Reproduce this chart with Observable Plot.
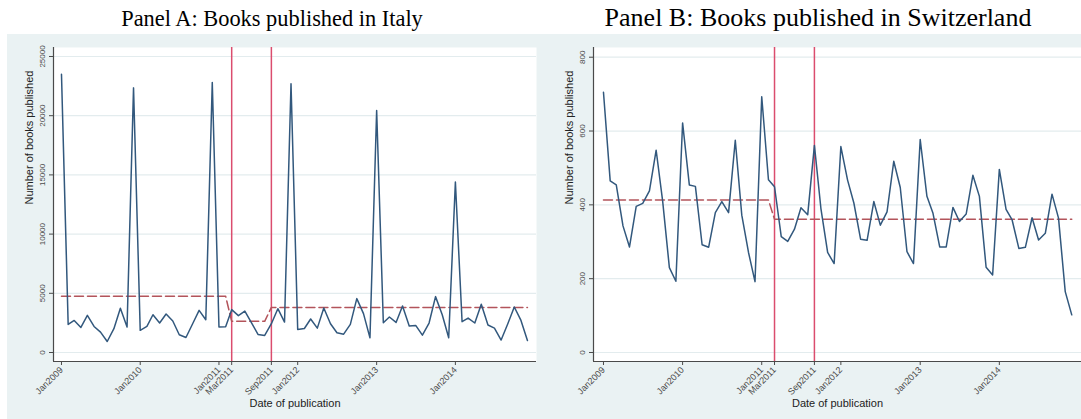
<!DOCTYPE html>
<html><head><meta charset="utf-8">
<script src="https://cdn.jsdelivr.net/npm/d3@7"></script>
<script src="https://cdn.jsdelivr.net/npm/@observablehq/plot@0.6"></script>
<style>
body{margin:0;background:#fff;}
#wrap{position:relative;width:1081px;height:419px;overflow:hidden;font-family:Arial,"Liberation Sans",sans-serif;}
.title{position:absolute;font-family:"Times New Roman","Liberation Serif",serif;color:#000;white-space:nowrap;transform:translateX(-50%);line-height:1;}
.panel{position:absolute;top:34px;background:#eaf2f3;}
.panel svg{display:block;}
</style></head><body>
<div id="wrap"></div>
<script>
// ---- data ----
const firstMonth = "2009-01";
const italyBooks = [23500, 2370, 2710, 2120, 3140, 2200, 1720, 930, 2010, 3730, 2150, 22350,
  1870, 2200, 3190, 2490, 3250, 2660, 1500, 1270, 2430, 3560, 2770, 22800,
  2150, 2180, 3620, 3110, 3500, 2510, 1530, 1440, 2430, 3700, 2570, 22700,
  1950, 2030, 2830, 2060, 3760, 2430, 1670, 1550, 2370, 4550, 3280, 1240,
  20440, 2510, 3000, 2540, 3930, 2230, 2290, 1470, 2490, 4720, 3190, 1240,
  14400, 2600, 2910, 2490, 4070, 2320, 2060, 1050, 2430, 3840, 2710, 1020];
const swissBooks = [705, 465, 454, 343, 286, 396, 404, 438, 548, 410, 230, 193,
  622, 454, 450, 292, 285, 379, 409, 379, 575, 372, 271, 192,
  693, 468, 449, 314, 301, 334, 392, 373, 561, 390, 271, 241,
  558, 467, 405, 307, 304, 409, 345, 381, 518, 447, 273, 241,
  577, 423, 377, 286, 286, 393, 355, 375, 480, 423, 231, 210,
  496, 388, 359, 282, 285, 365, 305, 323, 429, 364, 165, 102];
const italyFitMonths = ["2009-01", "2011-02", "2011-03", "2011-08", "2011-09", "2014-12"];
const italyFitValues = [4750, 4750, 2630, 2630, 3810, 3810];
const swissFitMonths = ["2009-01", "2011-02", "2011-03", "2014-12"];
const swissFitValues = [413, 413, 361, 361];
const policyMonths = ["2011-03", "2011-09"];
const xTickMonths = ["2009-01", "2010-01", "2011-01", "2011-03", "2011-09", "2012-01", "2013-01", "2014-01"];
const italyYTicks = [0, 5000, 10000, 15000, 20000, 25000];
const swissYTicks = [0, 200, 400, 600, 800];
const titles = ["Panel A: Books published in Italy", "Panel B: Books published in Switzerland"];
const yTitle = "Number of books published";
const xTitle = "Date of publication";

// ---- helpers ----
const parseMonth = d3.utcParse("%Y-%m");
const fmtMonth = d3.utcFormat("%b%Y");
const series = (vals) => vals.map((v, i) => ({date: d3.utcMonth.offset(parseMonth(firstMonth), i), value: v}));
const fitRows = (months, vals) => months.map((m, i) => ({date: parseMonth(m), value: vals[i]}));

const AXIS = "#4a4a4a";
function panel({data, fit, yTicks, yDomain, xDomain, width, marginLeft, marginRight}) {
  const height = 385;
  return Plot.plot({
    width, height, marginLeft, marginRight, marginTop: 13, marginBottom: 58,
    style: {background: "transparent", fontFamily: "Arial, 'Liberation Sans', sans-serif", overflow: "visible"},
    x: {type: "utc", domain: xDomain, axis: null},
    y: {domain: yDomain, axis: null},
    marks: [
      Plot.frame({fill: "white", stroke: null}),
      Plot.gridY(yTicks, {stroke: "#e3ecee", strokeOpacity: 1, strokeWidth: 1.2}),
      Plot.ruleX(policyMonths.map(parseMonth), {stroke: "#db4d6e", strokeWidth: 1.5}),
      Plot.line(fit, {x: "date", y: "value", stroke: "#b3545b", strokeWidth: 1.5, strokeDasharray: "9,4"}),
      Plot.line(data, {x: "date", y: "value", stroke: "#32587d", strokeWidth: 1.5}),
      Plot.ruleX([xDomain[0]], {stroke: AXIS, strokeWidth: 1.2}),
      Plot.ruleY([yDomain[0]], {stroke: AXIS, strokeWidth: 1.2}),
      Plot.axisY(yTicks, {tickRotate: -90, tickSize: 4, fontSize: 8, color: AXIS, stroke: AXIS, label: null, tickFormat: d => String(d)}),
      Plot.axisX(xTickMonths.map(parseMonth), {tickRotate: -45, tickSize: 4, tickPadding: 3, fontSize: 9, color: AXIS, stroke: AXIS, label: null, tickFormat: fmtMonth}),
      Plot.text([yTitle], {frameAnchor: "left", rotate: -90, dx: -24, fontSize: 11, fill: "#222"}),
      Plot.text([xTitle], {frameAnchor: "bottom", dy: 45, fontSize: 11, fill: "#222"})
    ]
  });
}

const wrap = document.getElementById("wrap");
const configs = [
  {left: 7, width: 538, marginLeft: 46, marginRight: 9, titleX: 272, titleSize: 22.4, titleTop: 8,
   data: series(italyBooks), fit: fitRows(italyFitMonths, italyFitValues),
   yTicks: italyYTicks, yDomain: [-760, 25760],
   xDomain: [new Date(Date.UTC(2008, 10, 25)), new Date(Date.UTC(2015, 0, 12))]},
  {left: 545, width: 536, marginLeft: 48, marginRight: 0, titleX: 818, titleSize: 26, titleTop: 5,
   data: series(swissBooks), fit: fitRows(swissFitMonths, swissFitValues),
   yTicks: swissYTicks, yDomain: [-24.4, 826.3],
   xDomain: [new Date(Date.UTC(2008, 10, 16)), new Date(Date.UTC(2015, 0, 15))]}
];
configs.forEach((c, i) => {
  const t = document.createElement("div");
  t.className = "title"; t.style.left = c.titleX + "px"; t.style.top = c.titleTop + "px";
  t.style.fontSize = c.titleSize + "px"; t.textContent = titles[i];
  wrap.appendChild(t);
  const p = document.createElement("div");
  p.className = "panel"; p.style.left = c.left + "px"; p.style.width = c.width + "px"; p.style.height = "385px";
  p.appendChild(panel(c));
  wrap.appendChild(p);
});
</script>
</body></html>
